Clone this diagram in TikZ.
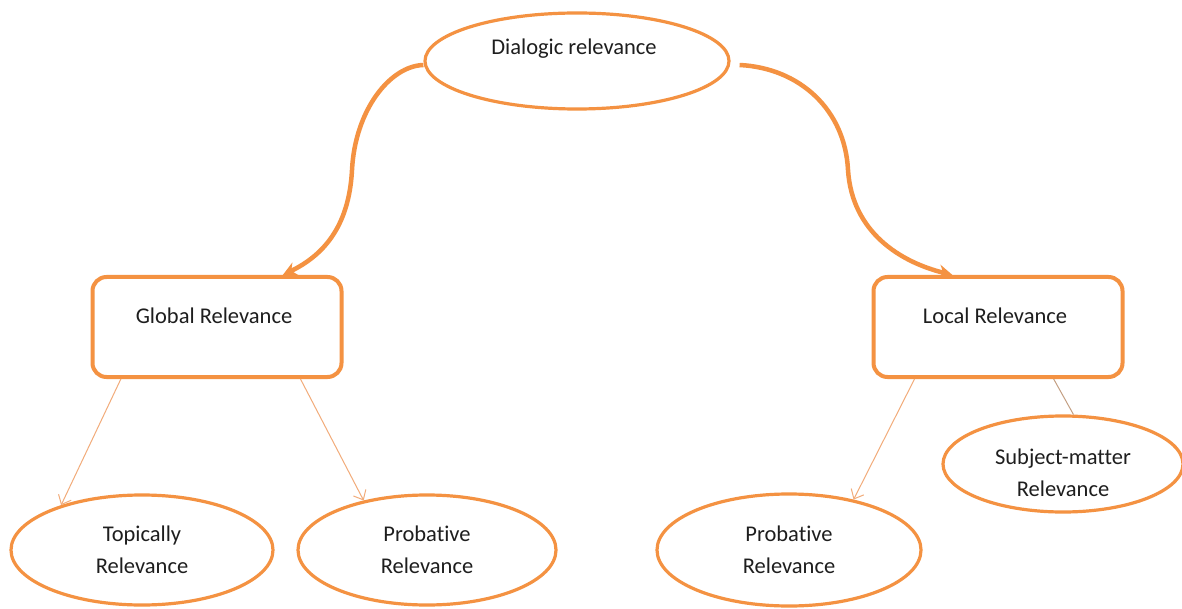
\documentclass[tikz,border=0pt]{standalone}
\usepackage{fontspec}
\setmainfont{Carlito}[Ligatures=NoCommon]
\usetikzlibrary{arrows.meta,calc,shapes.geometric}
\definecolor{orng}{RGB}{244,146,66}
\definecolor{thinorng}{RGB}{242,172,122}
\definecolor{thingray}{RGB}{196,160,132}
\definecolor{txt}{RGB}{30,30,30}
\begin{document}
\begin{tikzpicture}[x=1pt,y=-1pt,
  every node/.style={text=txt,font=\fontsize{22.5}{32}\selectfont},
  oval/.style={ellipse,draw=orng,line width=3.2pt,inner sep=0pt,align=center},
  box/.style={rectangle,rounded corners=14pt,draw=orng,line width=4pt,minimum width=249pt,minimum height=100pt,inner sep=0pt},
  bigarrow/.style={draw=orng,line width=4.5pt,-{Stealth[length=14pt,width=14pt]}},
  thinarrow/.style={draw=thinorng,line width=1pt,-{Straight Barb[length=8pt,width=14pt]}},
  thinline/.style={draw=thingray,line width=1pt}]
\useasboundingbox[fill=white] (0,0) rectangle (1182,609);

\node[oval,minimum width=304pt,minimum height=96pt,label={[yshift=12pt,xshift=-3pt]center:Dialogic relevance}] (dial) at (577,61) {};
\node[box,label={[yshift=11pt,xshift=-3pt]center:Global Relevance}] (glob) at (217,327) {};
\node[box,label={[yshift=11pt,xshift=-3pt]center:Local Relevance}] (loc) at (998,327) {};

\node[oval,minimum width=262pt,minimum height=110pt] (topi) at (142,550) {Topically\\Relevance};
\node[oval,minimum width=258pt,minimum height=110pt] (prob1) at (427,550) {Probative\\Relevance};
\node[oval,minimum width=264pt,minimum height=112pt] (prob2) at (789,550) {Probative\\Relevance};
\node[oval,minimum width=240pt,minimum height=96pt,label={[yshift=-10pt]center:{\begin{tabular}{c}Subject-matter\\Relevance\end{tabular}}}] (subj) at (1063,464) {};

% thick curved arrows
\draw[bigarrow] ($(dial.west)+(0,4)$) .. controls (390,66) and (355,110) .. (352,170)
  .. controls (349,228) and (322,256) .. ($(glob.north west)!0.76!(glob.north east)$);
\draw[bigarrow] ($(dial.east)+(9,4)$) .. controls (800,68) and (845,110) .. (848,170)
  .. controls (852,232) and (900,262) .. ($(loc.north west)!0.32!(loc.north east)$);

% thin connectors
\draw[thinarrow] ($(glob.south west)!0.12!(glob.south east)$) -- (topi.151);
\draw[thinarrow] ($(glob.south west)!0.83!(glob.south east)$) -- (prob1.142);
\draw[thinarrow] ($(loc.south west)!0.17!(loc.south east)$) -- (prob2.38);
\draw[thinline] ($(loc.south west)!0.72!(loc.south east)$) -- (subj.78);
\end{tikzpicture}
\end{document}
